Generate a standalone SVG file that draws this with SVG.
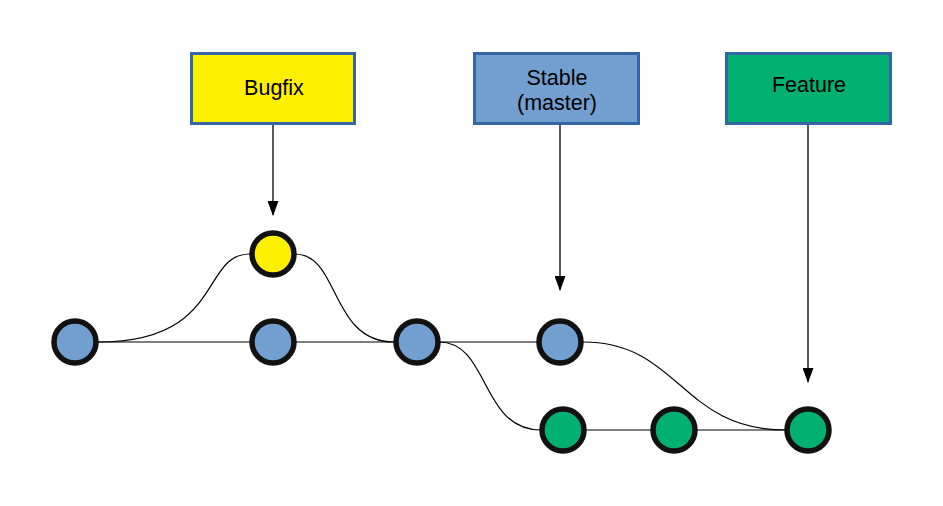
<svg xmlns="http://www.w3.org/2000/svg" width="943" height="506" viewBox="0 0 943 506">
<defs>
<style>
.box{stroke:#3465a4;stroke-width:3}
.lbl{font-family:"Liberation Sans",Arial,sans-serif;font-size:21.5px;fill:#000;text-anchor:middle}
.c{stroke:#111;stroke-width:5.5}
.blue{fill:#729fcf}
.yel{fill:#ffef00}
.grn{fill:#00b070}
.edge{fill:none;stroke:#000;stroke-width:1.2}
.ptr{fill:none;stroke:#000;stroke-width:1.3}
</style>
<marker id="arr" markerWidth="15" markerHeight="11" refX="14" refY="5.5" orient="auto" markerUnits="userSpaceOnUse" viewBox="0 0 15 11">
<path d="M0,0 L15,5.5 L0,11 Z" fill="#000"/>
</marker>
</defs>
<rect width="943" height="506" fill="#fff"/>
<g id="connectors">
<path class="edge" d="M98 342 H250"/>
<path class="edge" d="M295 342 H394"/>
<path class="edge" d="M439 342 H538"/>
<path class="edge" d="M586 430 H652"/>
<path class="edge" d="M697 430 H786"/>
<path class="edge" d="M98 342 C225 342, 200 254, 250 254"/>
<path class="edge" d="M295 254 C340 254, 330 342, 394 342"/>
<path class="edge" d="M439 342 C490 342, 480 430, 541 430"/>
<path class="edge" d="M583 342 C680 342, 680 430, 786 430"/>
<path class="ptr" d="M273 124 V215" marker-end="url(#arr)"/>
<path class="ptr" d="M560 124 V290" marker-end="url(#arr)"/>
<path class="ptr" d="M808 124 V382" marker-end="url(#arr)"/>
</g>
<g id="bugfix"><rect class="box" x="191.5" y="53.5" width="163" height="70" fill="#ffef00"/><text class="lbl" x="274" y="95">Bugfix</text></g>
<g id="stable"><rect class="box" x="474.5" y="53.5" width="164" height="70" fill="#729fcf"/><text class="lbl" x="557" y="85">Stable</text><text class="lbl" x="557" y="110">(master)</text></g>
<g id="feature"><rect class="box" x="726.5" y="53.5" width="164" height="70" fill="#00b070"/><text class="lbl" x="809" y="92">Feature</text></g>
<g id="c1"><circle class="c blue" cx="75" cy="342" r="21"/></g>
<g id="c2"><circle class="c blue" cx="273" cy="342" r="21"/></g>
<g id="cy"><circle class="c yel" cx="273" cy="254" r="21"/></g>
<g id="c3"><circle class="c blue" cx="417" cy="342" r="21"/></g>
<g id="c4"><circle class="c blue" cx="560" cy="342" r="21"/></g>
<g id="g1"><circle class="c grn" cx="563" cy="430" r="21"/></g>
<g id="g2"><circle class="c grn" cx="674" cy="430" r="21"/></g>
<g id="g3"><circle class="c grn" cx="808" cy="430" r="21"/></g>
</svg>
